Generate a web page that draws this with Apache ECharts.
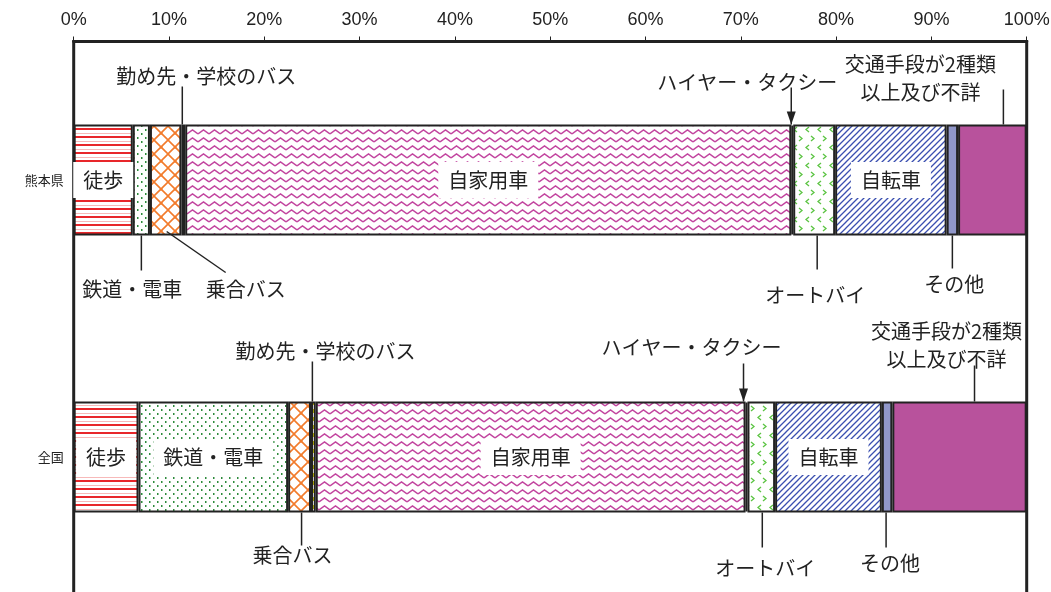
<!DOCTYPE html>
<html>
<head>
<meta charset="utf-8">
<script src="https://cdn.jsdelivr.net/npm/echarts@6/dist/echarts.min.js"></script>
<style>
    html, body { margin: 0; padding: 0; background: #fff; }
    #chart { width: 1051px; height: 592px; }
</style>
</head>
<body>
<div id="chart"></div>
<script>
// 通勤・通学の交通手段（%）
const categories = ['熊本県', '全国'];
const modes = ['徒歩', '鉄道・電車', '乗合バス', '勤め先・学校のバス', '自家用車',
    'ハイヤー・タクシー', 'オートバイ', '自転車', 'その他', '交通手段が2種類以上及び不詳'];
const kumamotoValues = [6.2, 1.8, 3.3, 0.4, 63.6, 0.2, 4.4, 11.7, 1.2, 7.2];
const zenkokuValues = [6.8, 15.7, 2.4, 0.5, 45.1, 0.2, 2.9, 11.2, 1.1, 14.1];
const tickValues = [0, 10, 20, 30, 40, 50, 60, 70, 80, 90, 100];

// バーの中に表示するラベル
const insideLabels = [
    ['徒歩', '自家用車', '自転車'],
    ['徒歩', '鉄道・電車', '自家用車', '自転車']
];

// 引き出し線つきの注記 (cat, mode, 上下, 線のずれ, 線の長さ, 文字のずれ)
const notes = [
    { cat: 0, mode: 3, side: 'top', dx: -1, len: 38, tx: 24, ty: -48 },
    { cat: 0, mode: 5, side: 'top', dx: -1, len: 37, tx: -44, ty: -42, arrow: true },
    { cat: 0, mode: 9, side: 'top', dx: 11, len: 35, tx: -83, ty: -46, text: '交通手段が2種類\n以上及び不詳' },
    { cat: 0, mode: 1, side: 'bottom', dx: 0, len: 35, tx: -9, ty: 54 },
    { cat: 0, mode: 2, side: 'bottom', dx: 1, len: 37, ex: 59, tx: 79, ty: 54 },
    { cat: 0, mode: 6, side: 'bottom', dx: 3, len: 34, tx: -2, ty: 60 },
    { cat: 0, mode: 8, side: 'bottom', dx: 0, len: 33, tx: 2, ty: 49 },
    { cat: 1, mode: 3, side: 'top', dx: -1, len: 40, tx: 13, ty: -50 },
    { cat: 1, mode: 5, side: 'top', dx: -3, len: 38, tx: -52, ty: -54, arrow: true },
    { cat: 1, mode: 9, side: 'top', dx: 15, len: 36, tx: -28, ty: -56, text: '交通手段が2種類\n以上及び不詳' },
    { cat: 1, mode: 2, side: 'bottom', dx: 2, len: 33, tx: -9, ty: 43 },
    { cat: 1, mode: 6, side: 'bottom', dx: 1, len: 35, tx: 3, ty: 56 },
    { cat: 1, mode: 8, side: 'bottom', dx: -1, len: 35, tx: 4, ty: 51 }
];

const BAR_W = 111;
const JP_FONT = '"Noto Sans CJK JP", "Noto Sans", sans-serif';

function makePattern(w, h, draw) {
    const c = document.createElement('canvas');
    c.width = w;
    c.height = h;
    const ctx = c.getContext('2d');
    ctx.fillStyle = '#fff';
    ctx.fillRect(0, 0, w, h);
    draw(ctx);
    return { image: c, repeat: 'repeat' };
}

const fills = [
    // 徒歩: 赤の横線
    makePattern(8, 8, ctx => {
        ctx.fillStyle = '#e8262a';
        ctx.fillRect(0, 0, 8, 2);
        ctx.fillStyle = '#f7b9b9';
        ctx.fillRect(0, 5, 8, 1);
    }),
    // 鉄道・電車: 緑の点
    makePattern(8, 8, ctx => {
        ctx.fillStyle = '#2e8b3c';
        ctx.fillRect(1, 1, 1.5, 2);
        ctx.fillRect(5, 5, 1.5, 2);
    }),
    // 乗合バス: オレンジの格子
    makePattern(14, 14, ctx => {
        ctx.strokeStyle = '#f27b2b';
        ctx.lineWidth = 1.6;
        ctx.beginPath();
        ctx.moveTo(0, 0); ctx.lineTo(14, 14);
        ctx.moveTo(14, 0); ctx.lineTo(0, 14);
        ctx.stroke();
        ctx.fillStyle = '#f27b2b';
        ctx.fillRect(6, 6, 2.5, 2.5);
    }),
    // 勤め先・学校のバス: 黄色
    makePattern(4, 8, ctx => {
        ctx.fillStyle = '#c8c400';
        ctx.fillRect(0, 1, 4, 4);
    }),
    // 自家用車: 紫の波線
    makePattern(11, 8, ctx => {
        ctx.strokeStyle = '#c2459f';
        ctx.lineWidth = 1.5;
        ctx.beginPath();
        ctx.moveTo(0, 6); ctx.lineTo(5.5, 2); ctx.lineTo(11, 6);
        ctx.stroke();
    }),
    // ハイヤー・タクシー
    '#222',
    // オートバイ: 緑の山形
    makePattern(12, 18, ctx => {
        ctx.strokeStyle = '#5cc443';
        ctx.lineWidth = 1.3;
        ctx.beginPath();
        ctx.moveTo(5, 1); ctx.lineTo(2, 3.5); ctx.lineTo(5, 6);
        ctx.moveTo(7, 10); ctx.lineTo(10, 12.5); ctx.lineTo(7, 15);
        ctx.stroke();
    }),
    // 自転車: 青の斜線
    makePattern(6, 6, ctx => {
        ctx.strokeStyle = '#3a4fb0';
        ctx.lineWidth = 1.3;
        ctx.beginPath();
        ctx.moveTo(0, 6); ctx.lineTo(6, 0);
        ctx.moveTo(-1, 1); ctx.lineTo(1, -1);
        ctx.moveTo(5, 7); ctx.lineTo(7, 5);
        ctx.stroke();
    }),
    '#9097c9',
    '#b8529c'
];

const chart = echarts.init(document.getElementById('chart'));

const rows = [kumamotoValues, zenkokuValues];

chart.setOption({
    animation: false,
    grid: {
        left: 73.7,
        right: 24.3,
        top: 41.5,
        height: 554,
        show: true,
        borderColor: '#222',
        borderWidth: 3,
        backgroundColor: 'transparent',
        outerBoundsMode: 'none'
    },
    xAxis: {
        type: 'value',
        position: 'top',
        min: 0,
        max: 100,
        interval: 10,
        axisLine: { show: true, lineStyle: { color: '#222', width: 3 } },
        axisTick: { show: true, length: 5, lineStyle: { color: '#222', width: 1 } },
        splitLine: { show: false },
        axisLabel: {
            margin: 12,
            color: '#222',
            fontSize: 18,
            fontFamily: '"Liberation Sans Narrow", "Liberation Sans", sans-serif',
            formatter: v => tickValues.includes(v) ? v + '%' : ''
        }
    },
    yAxis: {
        type: 'category',
        inverse: true,
        data: categories,
        axisLine: { show: false },
        axisTick: { show: false },
        axisLabel: { color: '#222', fontSize: 13, fontFamily: JP_FONT, margin: 10 }
    },
    series: modes.map((name, i) => ({
        name: name,
        type: 'bar',
        stack: 'total',
        barWidth: BAR_W,
        itemStyle: { color: fills[i], borderColor: '#222', borderWidth: 2 },
        label: {
            position: 'inside',
            formatter: '{a}',
            color: '#222',
            fontSize: 20,
            fontFamily: JP_FONT,
            backgroundColor: '#fff',
            padding: [8, 10]
        },
        data: rows.map((vals, c) => ({
            value: vals[i],
            label: { show: insideLabels[c].includes(name) }
        }))
    }))
});

// 注記の位置はバーの区間中央から求める
const graphics = [];
notes.forEach(n => {
    const vals = rows[n.cat];
    let start = 0;
    for (let k = 0; k < n.mode; k++) start += vals[k];
    const mid = start + vals[n.mode] / 2;
    const p = chart.convertToPixel({ gridIndex: 0 }, [mid, n.cat]);
    const x = p[0] + n.dx;
    const edge = n.side === 'top' ? p[1] - BAR_W / 2 : p[1] + BAR_W / 2;
    const dir = n.side === 'top' ? -1 : 1;
    if (n.ex !== undefined) {
        graphics.push({
            type: 'line', z: 100,
            shape: { x1: x, y1: edge - 4, x2: x + n.ex, y2: edge + n.len },
            style: { stroke: '#222', lineWidth: 1.5 }
        });
    } else {
        graphics.push({
            type: 'line', z: 100,
            shape: { x1: x, y1: edge, x2: x, y2: edge + dir * n.len },
            style: { stroke: '#222', lineWidth: 1.5 }
        });
    }
    if (n.arrow) {
        graphics.push({
            type: 'polygon', z: 100,
            shape: { points: [[x - 4.5, edge - 13], [x + 4.5, edge - 13], [x, edge]] },
            style: { fill: '#222' }
        });
    }
    graphics.push({
        type: 'text', z: 100,
        style: {
            text: n.text || modes[n.mode],
            x: x + n.tx,
            y: edge + n.ty,
            fill: '#222',
            fontSize: 20,
            fontFamily: JP_FONT,
            lineHeight: 28,
            align: 'center',
            verticalAlign: 'middle'
        }
    });
});
chart.setOption({ graphic: graphics });
</script>
</body>
</html>
